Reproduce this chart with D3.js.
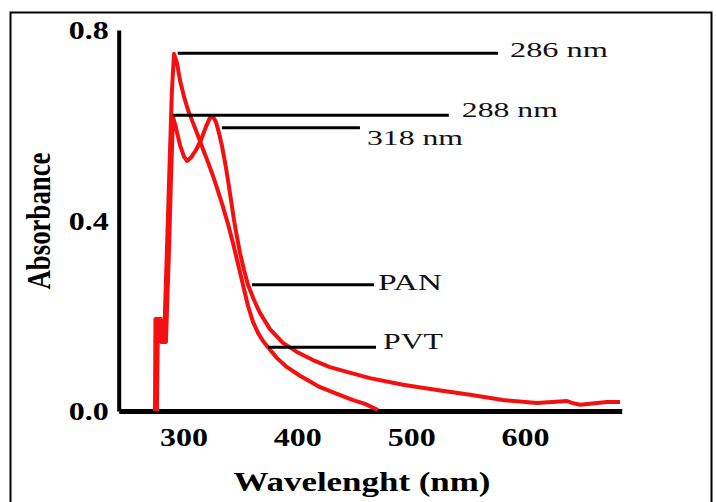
<html>
<head>
<meta charset="UTF-8">
<title>Absorbance spectra PAN / PVT</title>
<script src="https://cdn.jsdelivr.net/npm/d3@7/dist/d3.min.js"></script>
<style>
	body { margin: 0; background: #fff; }
	text { font-family: "Liberation Serif", "Times New Roman", serif; }
</style>
</head>
<body>
<div id="chart"></div>
<script>
// wavelength (nm) / absorbance
var pvtWave = [274.9, 275.3, 278.4, 280.1, 282.8, 285.4, 288.1, 289.8, 291.6, 294.2, 296.8, 300.4, 303.9, 308.3, 312.7, 317.0, 321.4, 325.8, 330.2, 334.6, 339.0, 343.4, 347.8, 352.2, 356.6, 361.0, 365.4, 369.8, 374.2, 382.1, 390.9, 402.3, 419.9, 434.8, 448.9, 459.4, 470.8];
var pvtAbs = [0, 0.193, 0.193, 0.145, 0.145, 0.338, 0.548, 0.674, 0.750, 0.731, 0.695, 0.660, 0.632, 0.605, 0.578, 0.550, 0.523, 0.494, 0.462, 0.429, 0.393, 0.353, 0.309, 0.265, 0.221, 0.187, 0.164, 0.147, 0.134, 0.111, 0.092, 0.074, 0.050, 0.036, 0.023, 0.015, 0.002];
var panWave = [276.6, 277.5, 280.1, 281.9, 284.5, 287.2, 288.9, 290.7, 293.3, 296.8, 300.4, 303.0, 306.5, 310.9, 315.3, 319.7, 323.2, 325.8, 328.5, 331.1, 333.7, 336.4, 339.0, 341.7, 344.3, 346.9, 349.6, 353.1, 356.6, 361.9, 367.1, 375.9, 387.3, 399.6, 413.7, 428.6, 443.6, 463.7, 492.8, 522.7, 551.7, 580.7, 610.5, 636.9, 641.3, 648.3, 657.1, 672.1, 683.5];
var panAbs = [0, 0.193, 0.193, 0.145, 0.145, 0.338, 0.485, 0.618, 0.595, 0.559, 0.534, 0.525, 0.532, 0.548, 0.569, 0.597, 0.616, 0.618, 0.607, 0.584, 0.557, 0.523, 0.485, 0.443, 0.401, 0.366, 0.332, 0.296, 0.265, 0.233, 0.206, 0.172, 0.143, 0.124, 0.107, 0.092, 0.082, 0.069, 0.055, 0.044, 0.034, 0.023, 0.017, 0.021, 0.017, 0.013, 0.015, 0.019, 0.019];

var xTicks = [300, 400, 500, 600];
var yTicks = [0.0, 0.4, 0.8];

// annotation leaders: label, absorbance level, start / end wavelength
var annLabels = ["286 nm", "288 nm", "318 nm", "PAN", "PVT"];
var annAbs = [0.751, 0.621, 0.595, 0.265, 0.134];
var annFrom = [294.9, 290.7, 333.7, 360.1, 374.2];
var annTo = [576.3, 533.1, 455.0, 467.3, 469.1];

var W = 716, H = 502;
var annDx = [12, 13, 7, 4, 7], annDy = [4, 2, 17, 5, 2], annLen = [98, 96, 96, 64, 60], annSize = [22, 22, 22, 23, 23];

var svg = d3.select("#chart").append("svg").attr("width", W).attr("height", H);
svg.append("rect").attr("width", W).attr("height", H).attr("fill", "#fff");
svg.append("rect").attr("x", 10.5).attr("y", 12.5).attr("width", 701).attr("height", 500)
	.attr("fill", "none").attr("stroke", "#000").attr("stroke-width", 2);

var x = d3.scaleLinear().domain([243, 685]).range([118.7, 621.7]);
var y = d3.scaleLinear().domain([0, 0.8]).range([411, 30]);

var line = d3.line().x(function(d){ return x(d[0]); }).y(function(d){ return y(d[1]); });
var pvt = d3.zip(pvtWave, pvtAbs), pan = d3.zip(panWave, panAbs);

// axes
var gx = svg.append("g").attr("transform", "translate(0," + y(0) + ")")
	.call(d3.axisBottom(x).tickValues(xTicks).tickSize(0).tickSizeOuter(0).tickPadding(0));
gx.select(".domain").attr("stroke", "#000").attr("stroke-width", 5);
gx.selectAll("text").attr("y", 35).attr("dy", 0).attr("fill", "#000")
	.style("font-size", "25px").style("font-weight", "bold").style("font-family", "Liberation Serif")
	.attr("textLength", 48).attr("lengthAdjust", "spacingAndGlyphs");

var gy = svg.append("g").attr("transform", "translate(" + x(243) + ",0)")
	.call(d3.axisLeft(y).tickValues(yTicks).tickFormat(d3.format(".1f")).tickSize(0).tickSizeOuter(0).tickPadding(10));
gy.select(".domain").attr("stroke", "#000").attr("stroke-width", 4);
gy.selectAll("text").attr("fill", "#000").attr("dy", "0.34em")
	.style("font-size", "25px").style("font-weight", "bold").style("font-family", "Liberation Serif")
	.attr("textLength", 40).attr("lengthAdjust", "spacingAndGlyphs");

// spectra
svg.append("path").datum(pan).attr("d", line).attr("fill", "none")
	.attr("stroke", "#f51010").attr("stroke-width", 4).attr("stroke-linejoin", "round");
svg.append("path").datum(pvt).attr("d", line).attr("fill", "none")
	.attr("stroke", "#f51010").attr("stroke-width", 4).attr("stroke-linejoin", "round");

// leaders and labels
annLabels.forEach(function(t, i){
	svg.append("line").attr("x1", x(annFrom[i])).attr("x2", x(annTo[i]))
		.attr("y1", y(annAbs[i])).attr("y2", y(annAbs[i]))
		.attr("stroke", "#000").attr("stroke-width", 3);
	svg.append("text").attr("x", x(annTo[i]) + annDx[i]).attr("y", y(annAbs[i]) + annDy[i])
		.attr("fill", "#111").style("font-size", annSize[i] + "px")
		.attr("textLength", annLen[i]).attr("lengthAdjust", "spacingAndGlyphs").text(t);
});

// axis titles
svg.append("text").attr("transform", "translate(50,221) scale(1.2,1) rotate(-90)")
	.attr("text-anchor", "middle").style("font-size", "28px").style("font-weight", "bold")
	.attr("textLength", 137).attr("lengthAdjust", "spacingAndGlyphs").text("Absorbance");
svg.append("text").attr("x", 362).attr("y", 491).attr("text-anchor", "middle")
	.style("font-size", "27px").style("font-weight", "bold")
	.attr("textLength", 257).attr("lengthAdjust", "spacingAndGlyphs").text("Wavelenght (nm)");
</script>
</body>
</html>
